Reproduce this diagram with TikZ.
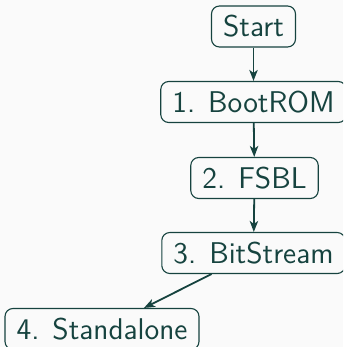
\documentclass[tikz,border=0pt]{standalone}
\usetikzlibrary{arrows.meta}
\definecolor{ink}{HTML}{16433F}
\definecolor{paper}{HTML}{FAFAFA}
\begin{document}
\begin{tikzpicture}[x=1pt,y=1pt,
  stage/.style={draw=ink, text=ink, line width=0.55pt, rounded corners=4pt,
    font=\sffamily\fontsize{15}{18}\selectfont,
    minimum height=20.5pt, inner xsep=5.8pt, inner ysep=2pt},
  flow/.style={draw=ink, line width=0.9pt, -{Stealth[length=5.5pt,width=4.2pt,inset=1.5pt]}}]
  \fill[paper] (0,0) rectangle (171.5,-173.5);
  \clip (0,0) rectangle (171.5,-173.5);
  \node[stage] (start) at (126.75,-13.25) {Start};
  \node[stage] (boot)  at (126.75,-51)    {1. BootROM};
  \node[stage] (fsbl)  at (127.25,-89)    {2. FSBL};
  \node[stage] (bit)   at (126.75,-126.5) {3. BitStream};
  \node[stage] (alone) at (51,-164.5)     {4. Standalone};
  \draw[flow] (start) -- (boot);
  \draw[flow] (boot) -- (fsbl);
  \draw[flow] (fsbl) -- (bit);
  \draw[flow] (bit) -- (alone);
\end{tikzpicture}
\end{document}
